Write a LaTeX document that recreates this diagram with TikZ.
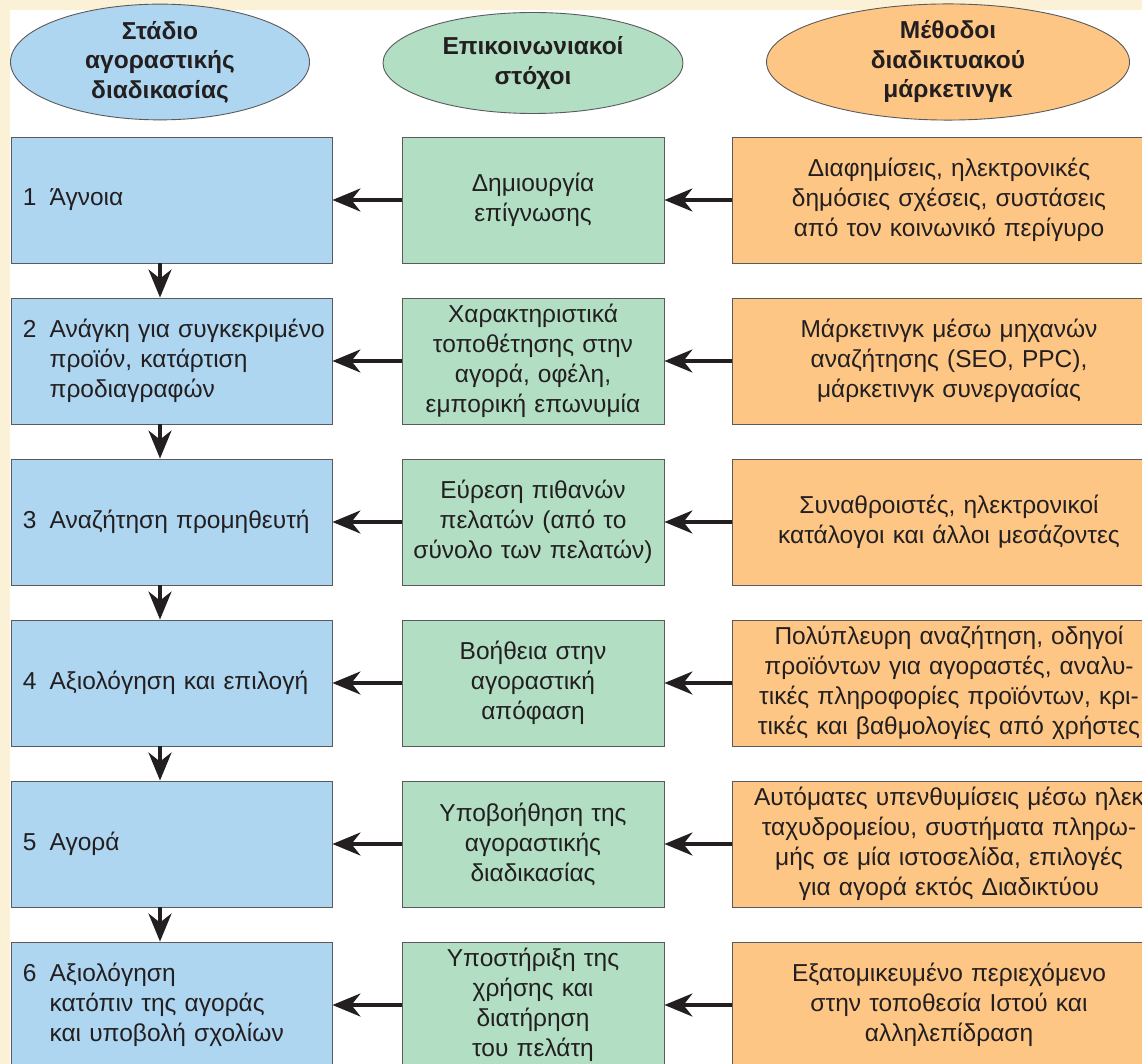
\documentclass[tikz,border=0pt]{standalone}
\usepackage{fontspec}
\setmainfont{Liberation Sans}
\usetikzlibrary{shapes.geometric,arrows.meta}

\definecolor{cream}{HTML}{FBF1D6}
\definecolor{stageblue}{HTML}{AED6F1}
\definecolor{goalgreen}{HTML}{B2DEC4}
\definecolor{methodorange}{HTML}{FEC684}
\definecolor{edge}{HTML}{5A5A5A}
\definecolor{ink}{HTML}{231F20}

\begin{document}
\begin{tikzpicture}[x=1pt,y=-1pt,
  box/.style={draw=edge, line width=0.9pt, minimum height=126pt, inner ysep=0pt,
    font=\fontsize{24.5}{30}\selectfont, text=ink},
  stagebox/.style={box, fill=stageblue, text width=297pt, inner xsep=12pt, align=left},
  goalbox/.style={box, fill=goalgreen, text width=258pt, inner xsep=2pt, align=center},
  methodbox/.style={box, fill=methodorange, text width=428pt, inner xsep=3pt, align=center},
  head/.style={ellipse, draw=edge, line width=0.9pt, inner sep=0pt, text=ink,
    font=\bfseries\fontsize{24.5}{29.5}\selectfont, align=center},
  arr/.style={line width=3.5pt, draw=ink,
    -{Stealth[length=28pt,width=23pt,inset=9pt]}}]

\useasboundingbox (0,0) rectangle (1142,1064);
\clip (0,0) rectangle (1142,1064);
\fill[cream] (0,0) rectangle (1142,1064);
\fill[white] (10,10) rectangle (1142,1064);

% column headings
\node[head, fill=stageblue, minimum width=299pt, minimum height=105pt] (hs) at (160,62)
  {Στάδιο\\αγοραστικής\\διαδικασίας};
\node[head, fill=goalgreen, minimum width=300pt, minimum height=101pt] (hg) at (533,63)
  {Επικοινωνιακοί\\στόχοι};
\node[head, fill=methodorange, minimum width=363pt, minimum height=105pt] (hm) at (948,62)
  {Μέθοδοι\\διαδικτυακού\\μάρκετινγκ};

% stages of the buying process
\newcommand{\stagetext}[2]{\begin{tabular}{@{}l@{\hspace{13pt}}l@{}}#1 & #2\end{tabular}}
\node[stagebox] (s1) at (171.5,200) {\stagetext{1}{Άγνοια}};
\node[stagebox] (s2) at (171.5,361) {\stagetext{2}{Ανάγκη για συγκεκριμένο\\ & προϊόν, κατάρτιση\\ & προδιαγραφών}};
\node[stagebox] (s3) at (171.5,522) {\stagetext{3}{Αναζήτηση προμηθευτή}};
\node[stagebox] (s4) at (171.5,683) {\stagetext{4}{Αξιολόγηση και επιλογή}};
\node[stagebox] (s5) at (171.5,844) {\stagetext{5}{Αγορά}};
\node[stagebox] (s6) at (171.5,1005) {\stagetext{6}{Αξιολόγηση\\ & κατόπιν της αγοράς\\ & και υποβολή σχολίων}};

% communication goals
\node[goalbox] (g1) at (533,200) {Δημιουργία\\επίγνωσης};
\node[goalbox] (g2) at (533,361) {Χαρακτηριστικά\\τοποθέτησης στην\\αγορά, οφέλη,\\εμπορική επωνυμία};
\node[goalbox] (g3) at (533,522) {Εύρεση πιθανών\\πελατών (από το\\σύνολο των πελατών)};
\node[goalbox] (g4) at (533,683) {Βοήθεια στην\\αγοραστική\\απόφαση};
\node[goalbox] (g5) at (533,844) {Υποβοήθηση της\\αγοραστικής\\διαδικασίας};
\node[goalbox] (g6) at (533,1005) {Υποστήριξη της\\χρήσης και\\διατήρηση\\του πελάτη};

% online marketing methods
\node[methodbox] (m1) at (949,200) {Διαφημίσεις, ηλεκτρονικές\\δημόσιες σχέσεις, συστάσεις\\από τον κοινωνικό περίγυρο};
\node[methodbox] (m2) at (949,361) {Μάρκετινγκ μέσω μηχανών\\αναζήτησης (SEO, PPC),\\μάρκετινγκ συνεργασίας};
\node[methodbox] (m3) at (949,522) {Συναθροιστές, ηλεκτρονικοί\\κατάλογοι και άλλοι μεσάζοντες};
\node[methodbox] (m4) at (949,683) {Πολύπλευρη αναζήτηση, οδηγοί\\προϊόντων για αγοραστές, αναλυ-\\τικές πληροφορίες προϊόντων, κρι-\\τικές και βαθμολογίες από χρήστες};
\node[methodbox] (m5) at (949,844) {Αυτόματες υπενθυμίσεις μέσω ηλεκ\\ταχυδρομείου, συστήματα πληρω-\\μής σε μία ιστοσελίδα, επιλογές\\για αγορά εκτός Διαδικτύου};
\node[methodbox] (m6) at (949,1005) {Εξατομικευμένο περιεχόμενο\\στην τοποθεσία Ιστού και\\αλληλεπίδραση};

% connectors: methods -> goals -> stages
\foreach \i in {1,...,6}{
  \draw[arr] (m\i.west) -- (g\i.east);
  \draw[arr] (g\i.west) -- (s\i.east);
}
% connectors: stage to stage
\foreach \i/\j in {1/2,2/3,3/4,4/5,5/6}{
  \draw[arr] (s\i.south -| hs.center) -- (s\j.north -| hs.center);
}
\end{tikzpicture}
\end{document}
